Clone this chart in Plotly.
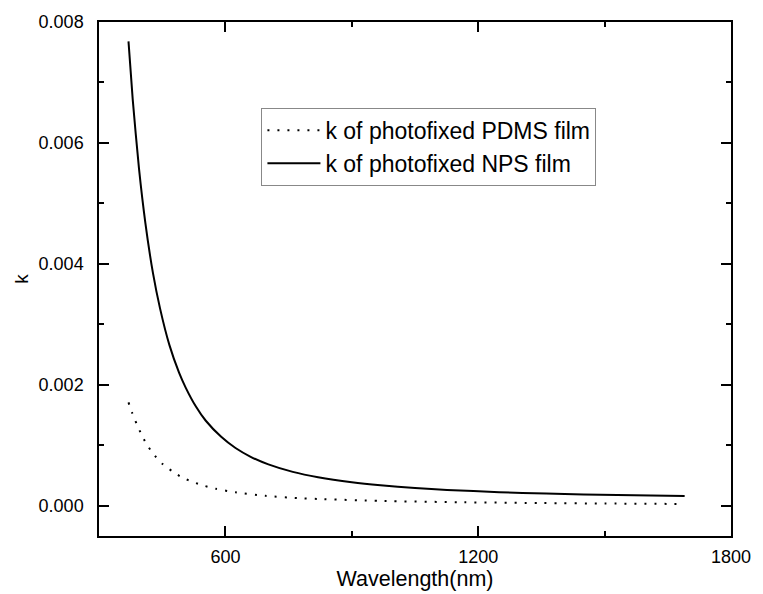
import plotly.graph_objects as go

# NPS film (solid)
nps_wl = [370, 380, 395, 410, 428, 445, 467, 490, 506, 530, 553, 590, 624, 660,
          702, 760, 820, 900, 968, 1050, 1126, 1250, 1361, 1450, 1530, 1610, 1690]
nps_k = [0.00768, 0.00672, 0.00557, 0.00468, 0.00385, 0.00326, 0.00266, 0.00220,
         0.00195, 0.00164, 0.00141, 0.00114, 0.000955, 0.000810, 0.000684, 0.000560,
         0.000471, 0.000388, 0.000338, 0.000293, 0.000262, 0.000225, 0.000202,
         0.000187, 0.000177, 0.000168, 0.000160]

# PDMS film (dotted)
pdms_wl = [370, 379, 389, 400, 412, 428, 451, 475, 498, 526, 549, 577, 624, 695,
           773, 820, 968, 1165, 1353, 1500, 1680]
pdms_k = [0.00171, 0.00153, 0.00136, 0.00119, 0.00103, 0.000866, 0.00069, 0.000565,
          0.000465, 0.000386, 0.000332, 0.000282, 0.000222, 0.000165, 0.000126,
          0.000112, 0.000080, 0.000058, 0.000045, 0.000037, 0.000030]

x_ticks = [600, 1200, 1800]
y_ticks = [0.000, 0.002, 0.004, 0.006, 0.008]
y_tick_text = ["0.000", "0.002", "0.004", "0.006", "0.008"]

FONT = "Liberation Sans, Arial"

fig = go.Figure()
fig.add_trace(go.Scatter(x=pdms_wl, y=pdms_k, mode="lines",
                         line_shape="spline",
                         name="k of photofixed PDMS film",
                         line=dict(color="black", width=2, dash="2px,8px", smoothing=0.6)))
fig.add_trace(go.Scatter(x=nps_wl, y=nps_k, mode="lines",
                         line_shape="spline",
                         name="k of photofixed NPS film",
                         line=dict(color="black", width=2, smoothing=0.6)))

axis_common = dict(showline=True, linecolor="black", linewidth=1.5, mirror="ticks",
                   ticks="inside", ticklen=10, tickwidth=1.5, tickcolor="black",
                   showgrid=False, zeroline=False,
                   tickfont=dict(family=FONT, size=18, color="black"))

fig.update_xaxes(range=[300, 1800], tickvals=x_ticks,
                 minor=dict(ticks="inside", ticklen=5, tickwidth=1.5, tickcolor="black",
                            dtick=300, tick0=0),
                 ticklabelstandoff=4,
                 title=dict(text="Wavelength(nm)", standoff=0,
                            font=dict(family=FONT, size=21.5, color="black")),
                 **axis_common)
fig.update_yaxes(range=[-0.0005, 0.008], tickvals=y_ticks, ticktext=y_tick_text,
                 minor=dict(ticks="inside", ticklen=5, tickwidth=1.5, tickcolor="black",
                            dtick=0.001, tick0=0),
                 ticklabelstandoff=10,
                 title=dict(text="k", standoff=5,
                            font=dict(family=FONT, size=19, color="black")),
                 **axis_common)

fig.update_layout(width=763, height=594,
                  margin=dict(l=99, r=26, t=18, b=56),
                  plot_bgcolor="white", paper_bgcolor="white",
                  font=dict(family=FONT, color="black"),
                  showlegend=True,
                  legend=dict(x=0.257, y=0.833, xanchor="left", yanchor="top",
                              bgcolor="white", bordercolor="#888888", borderwidth=1,
                              font=dict(family=FONT, size=23, color="black"),
                              tracegroupgap=0, itemwidth=53))

fig.write_html("out.html")
